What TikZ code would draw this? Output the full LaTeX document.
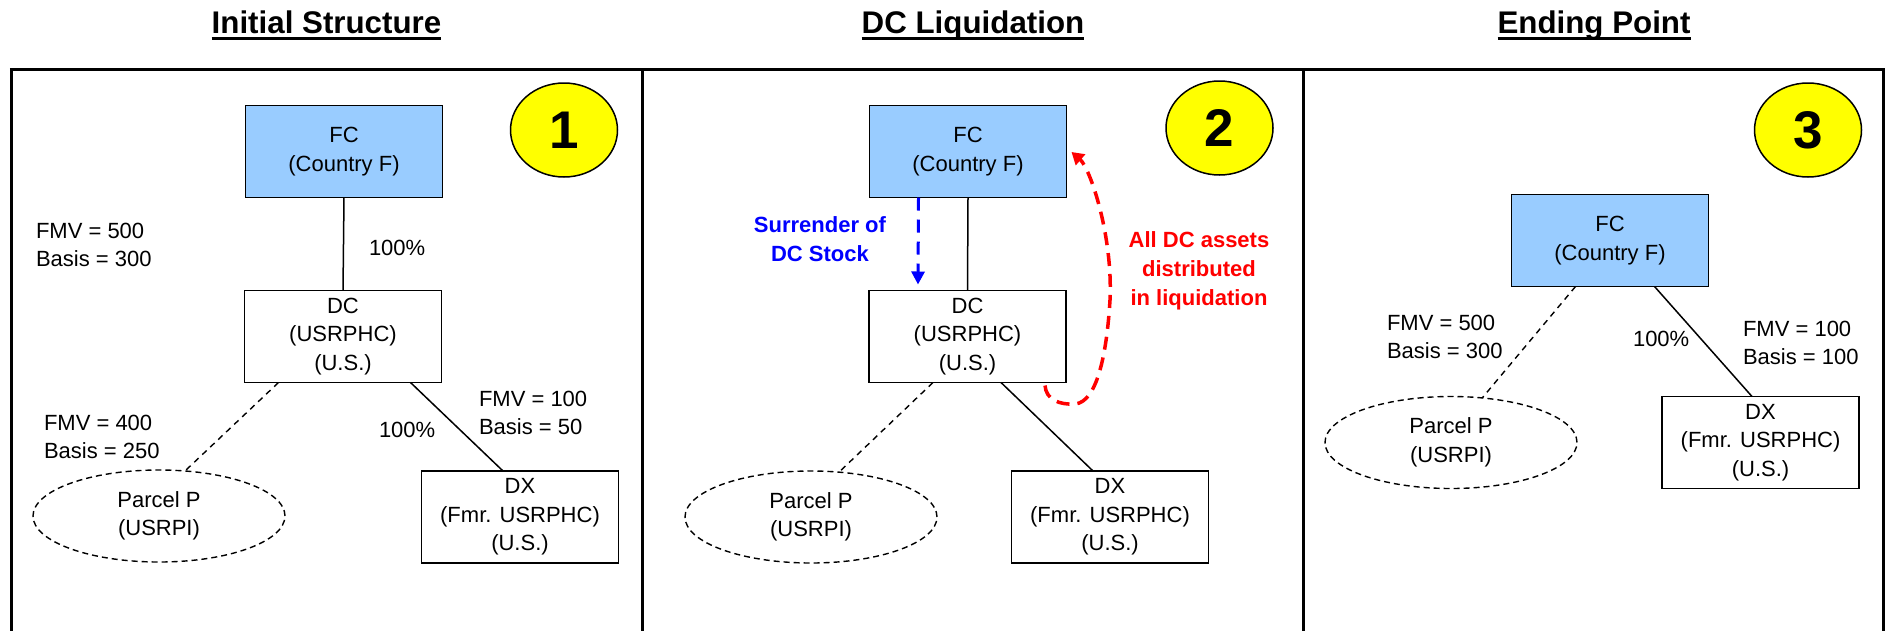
\documentclass[tikz,border=0pt]{standalone}
\usepackage{fontspec}
\setmainfont{Liberation Sans}
\usetikzlibrary{arrows.meta,calc,shapes.geometric}
\definecolor{fcblue}{HTML}{99CCFF}
\definecolor{circyellow}{HTML}{FFFF00}
\definecolor{arrred}{HTML}{FF0000}
\definecolor{arrblue}{HTML}{0000FF}
\begin{document}
\begin{tikzpicture}[x=1pt,y=-1pt,
  every node/.style={inner sep=0pt, outer sep=0pt},
  bodytext/.style={font=\fontsize{22}{28.5}\selectfont},
  entbox/.style={draw, line width=1.6pt, minimum width=197pt, minimum height=92pt, align=center, bodytext},
  fcbox/.style={entbox, fill=fcblue},
  parcel/.style={ellipse, draw, line width=1.4pt, dash pattern=on 6pt off 4pt, minimum width=252pt, minimum height=92pt, align=center, bodytext},
  numcirc/.style={ellipse, draw, line width=1.5pt, fill=circyellow, minimum width=107pt, minimum height=94pt, font=\bfseries\fontsize{53}{53}\selectfont},
  ttl/.style={anchor=base, font=\bfseries\fontsize{31.3}{36}\selectfont},
  lbl/.style={bodytext, align=left},
  boldlbl/.style={font=\bfseries\fontsize{22}{29}\selectfont, align=center, anchor=north},
  link/.style={line width=1.5pt},
  dlink/.style={line width=1.4pt, dash pattern=on 6pt off 5pt},
  frame/.style={line width=3pt}
]
\useasboundingbox (0,0) rectangle (1885,630);

% panel frame
\draw[frame] (9.8,69.5) -- (1884.5,69.5);
\draw[frame] (11.3,68) -- (11.3,640);
\draw[frame] (642.5,68) -- (642.5,640);
\draw[frame] (1303.5,68) -- (1303.5,640);
\draw[frame] (1883,68) -- (1883,640);

% titles
\node[ttl] (t1) at (326.5,33) {Initial Structure};
\node[ttl] (t2) at (973,33) {DC Liquidation};
\node[ttl] (t3) at (1594,33) {Ending Point};
\foreach \t in {t1,t2,t3}
  \draw[line width=3.3pt] ($(\t.base west)+(0,5.3)$) -- ($(\t.base east)+(0,5.3)$);

% ---------- panel 1 ----------
\node[fcbox] (fc1) at (344,151.5) {FC\\(Country F)};
\node[entbox] (dc1) at (343,336.5) {DC\\(USRPHC)\\(U.S.)};
\node[entbox] (dx1) at (520,517) {DX\\(Fmr. USRPHC)\\(U.S.)};
\node[parcel] (p1) at (159,516) {Parcel P\\(USRPI)};
\node[numcirc] (n1) at (564,130) {1};

\draw[link] (fc1.south) -- (dc1.north);
\draw[dlink] ($(dc1.south west)+(34,0)$) -- (p1.60);
\draw[link] ($(dc1.south east)+(-31,0)$) -- ($(dx1.north)+(-17,0)$);

\node[lbl, anchor=north west] (v1a) at (36,223) {FMV = 500\\Basis = 300};
\node[lbl, anchor=base west] (pc1a) at (369,255) {100\%};
\node[lbl, anchor=north west] (v1b) at (44,415) {FMV = 400\\Basis = 250};
\node[lbl, anchor=base west] (pc1b) at (379,437) {100\%};
\node[lbl, anchor=north west] (v1c) at (479,391) {FMV = 100\\Basis = 50};

% ---------- panel 2 ----------
\node[fcbox] (fc2) at (968,151.5) {FC\\(Country F)};
\node[entbox] (dc2) at (967.5,336.5) {DC\\(USRPHC)\\(U.S.)};
\node[entbox] (dx2) at (1110,517) {DX\\(Fmr. USRPHC)\\(U.S.)};
\node[parcel] (p2) at (811,517) {Parcel P\\(USRPI)};
\node[numcirc] (n2) at (1219.5,128) {2};

\draw[link] (fc2.south) -- (dc2.north);
\draw[dlink] ($(dc2.south west)+(64,0)$) -- (p2.58);
\draw[link] ($(dc2.south east)+(-65,0)$) -- ($(dx2.north)+(-17,0)$);

\coordinate (bs) at ($(fc2.south west)+(49,0)$);
\coordinate (be) at ($(dc2.north west)+(49,-6)$);
\draw[arrblue, line width=3pt, dash pattern=on 13pt off 9pt, -{Triangle[length=13pt,width=13pt]}] (bs) -- (be);

\coordinate (rs) at ($(dc2.south east)+(-21,3)$);
\coordinate (re) at ($(fc2.east)+(5,0.5)$);
\draw[arrred, line width=3.5pt, dash pattern=on 13pt off 8pt, -{Triangle[length=12pt,width=14pt]}]
  (rs) .. controls (1046,400) and (1060,405) .. (1075,404)
       .. controls (1098,402) and (1107,350) .. (1110,300)
       .. controls (1113,235) and (1090,168) .. (re);

\node[boldlbl, text=arrblue] (sur) at (820,217) {Surrender of\\DC Stock};
\node[boldlbl, text=arrred] (alla) at (1199,232) {All DC assets\\distributed\\in liquidation};

% ---------- panel 3 ----------
\node[fcbox] (fc3) at (1610,240.5) {FC\\(Country F)};
\node[entbox] (dx3) at (1760.5,442.5) {DX\\(Fmr. USRPHC)\\(U.S.)};
\node[parcel] (p3) at (1451,442.5) {Parcel P\\(USRPI)};
\node[numcirc] (n3) at (1808,130) {3};

\draw[dlink] ($(fc3.south west)+(64,0)$) -- (p3.55);
\draw[link] ($(fc3.south east)+(-54,0)$) -- ($(dx3.north)+(-8.5,0)$);

\node[lbl, anchor=north west] (v3a) at (1387,315) {FMV = 500\\Basis = 300};
\node[lbl, anchor=base west] (pc3) at (1633,346) {100\%};
\node[lbl, anchor=north west] (v3b) at (1743,321) {FMV = 100\\Basis = 100};
\end{tikzpicture}
\end{document}
